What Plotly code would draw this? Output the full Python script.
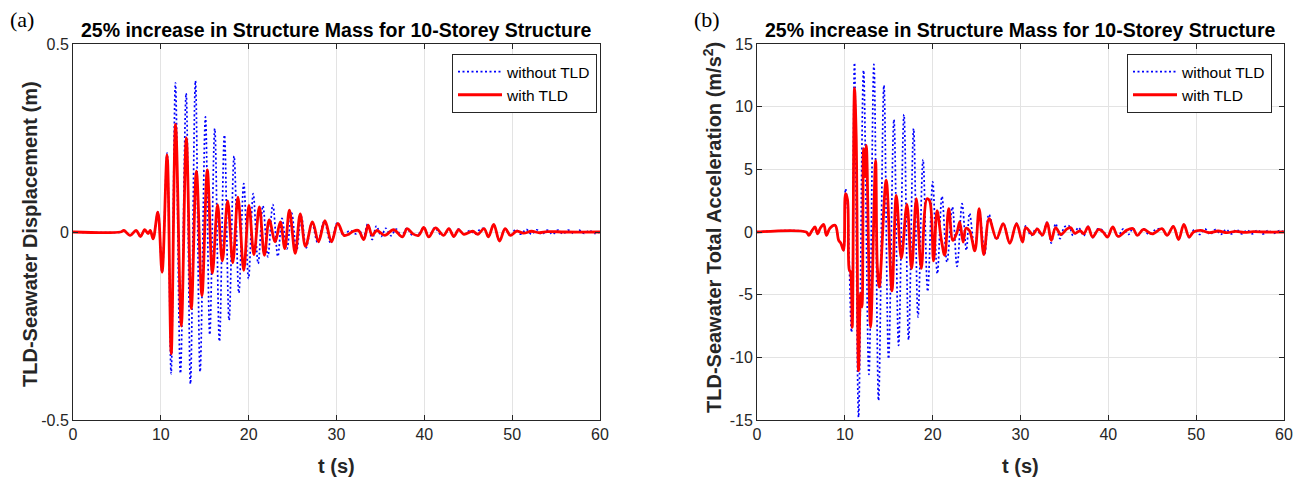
import plotly.graph_objects as go

# ---------------- data ----------------
# Panel (a): TLD-Seawater displacement (m) -- extrema (time s, value m)
disp_without_t = [0, 5.4, 5.8, 6.5, 7.18, 7.68, 8.17, 8.55, 8.8, 9.12, 9.66, 10.14,
                  10.71, 11.17, 11.66, 12.23, 12.88, 13.37, 13.94, 14.47, 15.08, 15.57,
                  16.14, 16.67, 17.24, 17.77, 18.34, 18.88, 19.44, 19.98, 20.52, 21.08,
                  21.62, 22.18, 22.75, 23.32, 23.8, 24.35, 24.9, 25.45, 26.0, 26.55,
                  27.2, 27.85, 28.6, 29.35, 30.1, 30.8, 31.5, 32.2, 32.6, 33.0, 33.57,
                  34.06, 34.55, 35.1, 35.6, 36.2, 36.8, 37.4, 38.0, 38.6, 39.3, 39.95,
                  40.5, 41.2, 41.8, 42.3, 42.8, 43.35, 43.9, 44.5, 45.2, 45.8, 46.3,
                  46.8, 47.3, 47.9, 48.56, 49.2, 49.8, 50.4, 51.0, 51.6, 52.2, 52.8,
                  53.4, 54.0, 54.6, 55.2, 55.8, 56.4, 57.0, 57.6, 58.2, 58.8, 59.4, 60]
disp_without_v = [0, 0, 0.004, -0.009, 0.004, -0.012, 0.006, -0.004, 0.004, -0.018, 0.053, -0.107,
                  0.21, -0.377, 0.397, -0.376, 0.369, -0.404, 0.402, -0.372, 0.306, -0.273,
                  0.275, -0.291, 0.258, -0.235, 0.202, -0.162, 0.129, -0.124, 0.102, -0.084,
                  0.07, -0.066, 0.073, -0.065, 0.036, -0.045, 0.05, -0.05, 0.04, -0.042,
                  0.025, -0.028, 0.028, -0.03, 0.025, -0.01, 0.004, -0.005, 0.006, -0.02, 0.022,
                  -0.02, 0.016, -0.012, 0.01, -0.01, 0.008, -0.012, 0.01, -0.008, -0.006, 0.012,
                  -0.012, 0.011, -0.006, -0.008, 0.009, -0.012, 0.008, -0.006, 0.004, -0.006, 0.006,
                  0.009, -0.013, 0.02, -0.024, 0.01, -0.01, 0.007, -0.006, 0.007, -0.006, 0.006,
                  -0.006, 0.005, -0.006, 0.005, -0.005, 0.005, -0.004, 0.005, -0.004, 0.004, -0.004, 0]

disp_with_t = [0, 5.4, 5.8, 6.5, 7.18, 7.68, 8.17, 8.55, 8.8, 9.12, 9.66, 10.14,
               10.71, 11.18, 11.68, 12.33, 12.9, 13.47, 14.05, 14.68, 15.29, 15.87,
               16.46, 17.0, 17.61, 18.19, 18.78, 19.44, 20.03, 20.6, 21.22, 21.79,
               22.34, 23.02, 23.6, 24.12, 24.64, 25.3, 25.87, 26.47, 27.27, 27.95,
               28.68, 29.43, 30.15, 30.85, 31.4, 31.9, 32.5, 33.1, 33.6, 34.06, 34.6,
               35.5, 36.5, 37.5, 38.04, 38.7, 39.35, 39.94, 40.5, 41.27, 42.2, 42.79,
               43.36, 43.9, 44.5, 45.5, 46.1, 46.8, 47.3, 47.9, 48.56, 49.2, 49.8,
               50.5, 51.3, 52.2, 53.1, 54.0, 56.0, 60]
disp_with_v = [0, 0, 0.004, -0.009, 0.004, -0.012, 0.006, -0.004, 0.004, -0.018, 0.053, -0.107,
               0.205, -0.324, 0.286, -0.25, 0.25, -0.204, 0.162, -0.169, 0.165, -0.109,
               0.072, -0.077, 0.083, -0.082, 0.093, -0.102, 0.071, -0.06, 0.067, -0.062,
               0.032, -0.026, 0.027, -0.044, 0.058, -0.057, 0.048, -0.038, 0.027, -0.026,
               0.03, -0.026, 0.023, -0.009, -0.006, 0.002, 0.004, -0.02, 0.018, -0.009, 0.004,
               -0.009, 0.006, -0.013, 0.009, -0.005, -0.009, 0.012, -0.013, 0.011, -0.009, 0.009,
               -0.012, 0.006, -0.006, 0.002, -0.006, 0.009, -0.013, 0.02, -0.024, 0.009, -0.009,
               0.002, -0.003, 0.002, -0.002, 0.001, 0, 0]

# Panel (b): TLD-Seawater total acceleration (m/s^2) -- extrema (time s, value)
acc_without_t = [0, 5.6, 5.9, 6.25, 6.6, 6.9, 7.2, 7.6, 7.9, 8.3, 8.9, 9.3, 9.55, 9.85,
                 10.08, 10.3, 10.76, 11.1, 11.56, 12.13, 12.74, 13.31, 13.84, 14.45, 14.98,
                 15.59, 16.12, 16.73, 17.26, 17.83, 18.33, 18.9, 19.43, 20.0, 20.53, 21.06,
                 21.63, 22.24, 22.78, 23.35, 23.84, 24.2, 24.8, 25.3, 25.93, 26.4, 27.27,
                 28.03, 28.78, 29.55, 30.23, 30.6, 31.2, 31.8, 32.4, 33.04, 33.5, 34.0,
                 34.5, 35.0, 35.5, 36.0, 36.6, 37.2, 37.7, 38.2, 38.8, 39.4, 39.9, 40.5,
                 41.1, 41.7, 42.3, 42.8, 43.3, 44.0, 44.6, 45.3, 46.1, 46.7, 47.4, 48.0,
                 48.6, 49.2, 49.8, 50.4, 51.0, 51.6, 52.2, 52.8, 53.4, 54.0, 54.6, 55.2,
                 55.8, 56.4, 57.0, 57.6, 58.2, 58.8, 59.4, 60]
acc_without_v = [0, 0, -0.27, 0.1, 0.4, -0.15, 0.3, 0.6, -0.27, 0.3, 0.53, -0.67, -0.9, -1.46,
                 3.46, 2.0, -8.0, 13.5, -14.78, 12.9, -11.37, 13.37, -13.45, 11.7, -10.12,
                 8.97, -9.05, 9.37, -8.6, 8.25, -6.79, 5.78, -4.74, 4.0, -3.33, 2.85,
                 -2.4, 2.0, -2.74, 2.26, -1.46, 1.5, -1.5, 1.7, -1.73, 1.4, -0.6,
                 0.7, -0.9, 0.7, -0.8, 0.5, -0.3, 0.3, -0.3, 0.8, -0.88, 0.67,
                 -0.53, 0.4, 0.5, -0.3, 0.35, -0.3, 0.45, -0.45, 0.25, 0.1, -0.4, 0.4,
                 -0.35, 0.25, -0.2, 0.3, -0.3, 0.25, -0.2, 0.15, 0.27, -0.27, 0.45, -0.6,
                 0.6, -0.45, 0.2, -0.2, 0.25, -0.2, 0.2, -0.2, 0.2, -0.15, 0.2, -0.15,
                 0.15, -0.15, 0.15, -0.15, 0.12, -0.12, 0.1, 0]

acc_with_t = [0, 5.6, 5.9, 6.25, 6.6, 6.9, 7.2, 7.6, 7.9, 8.3, 8.9, 9.3, 9.55, 9.85,
              10.08, 10.3, 10.5, 10.65, 10.84, 11.1, 11.29, 11.56, 11.79, 11.95, 12.13,
              12.3, 12.45, 12.93, 13.5, 13.7, 13.92, 14.71, 15.36, 15.86, 16.43, 17.07,
              17.6, 18.14, 18.7, 19.35, 19.65, 20.1, 20.5, 21.0, 21.37, 21.83, 22.3,
              22.78, 23.08, 23.47, 23.8, 24.2, 24.8, 25.29, 25.82, 26.43, 27.27, 28.03,
              28.78, 29.55, 30.23, 30.6, 31.4, 31.9, 32.5, 33.04, 33.5, 34.0, 34.6,
              35.3, 35.7, 36.2, 36.8, 37.2, 37.7, 38.2, 38.9, 39.4, 39.9, 40.5, 41.1,
              42.1, 42.8, 43.3, 44.0, 45.0, 46.1, 46.7, 47.4, 48.0, 48.6, 49.2, 49.7,
              50.5, 51.5, 52.5, 53.5, 54.5, 55.5, 56.5, 58, 60]
acc_with_v = [0, 0, -0.27, 0.1, 0.4, -0.15, 0.3, 0.6, -0.27, 0.3, 0.53, -0.67, -0.9, -1.46,
              3.06, 2.6, -3.0, -3.2, -7.6, 11.45, 7.7, -11.05, -4.9, -6.0, 6.66,
              4.4, 6.9, -7.6, 5.7, -2.8, -4.4, 4.13, -4.7, 2.93, -2.1, 2.2,
              -2.93, 2.66, -2.9, 2.66, 2.5, -2.3, 1.7, -0.67, -1.86, 1.86, -0.67,
              0.0, 0.8, -0.8, 0.3, 0.1, -1.5, 1.86, -1.8, 1.06, -0.53, 0.67,
              -0.9, 0.67, -0.8, 0.35, -0.2, 0.25, -0.25, 0.75, -0.67, 0.35, -0.2,
              0.25, 0.35, -0.1, 0.1, -0.15, 0.4, -0.4, 0.2, 0.0, -0.4, 0.4, -0.35,
              0.15, 0.27, -0.27, 0.2, -0.15, 0.27, -0.27, 0.45, -0.6, 0.6, -0.4, 0.0,
              0.13, -0.05, 0.08, -0.05, 0.05, -0.03, 0.03, 0, 0]

x_ticks = [0, 10, 20, 30, 40, 50, 60]
disp_ticks = [-0.5, 0, 0.5]
acc_ticks = [-15, -10, -5, 0, 5, 10, 15]

title_text = "25% increase in Structure Mass for 10-Storey Structure"
series_names = ["without TLD", "with TLD"]

# ---------------- figure ----------------
# The page body has an 8px default margin, so the figure is drawn at (8, 8);
# positions below are given in window pixels and shifted by OFF.
OFF = 8
W, H = 1308 - OFF, 480 - OFF
BLUE = "#0000ff"
RED = "#ff0000"
AX = "#262626"
GRID = "#e3e3e3"
FONT = "Liberation Sans, Arial, sans-serif"

fig = go.Figure()

blue_line = dict(color=BLUE, width=1.7, dash="2px,2.5px", shape="spline", smoothing=1.0)
red_line = dict(color=RED, width=2.8, shape="spline", smoothing=1.0)

fig.add_trace(go.Scatter(x=disp_without_t, y=disp_without_v, mode="lines", name=series_names[0],
                         line=blue_line, xaxis="x", yaxis="y", legend="legend"))
fig.add_trace(go.Scatter(x=disp_with_t, y=disp_with_v, mode="lines", name=series_names[1],
                         line=red_line, xaxis="x", yaxis="y", legend="legend"))
fig.add_trace(go.Scatter(x=acc_without_t, y=acc_without_v, mode="lines", name=series_names[0],
                         line=blue_line, xaxis="x2", yaxis="y2", legend="legend2"))
fig.add_trace(go.Scatter(x=acc_with_t, y=acc_with_v, mode="lines", name=series_names[1],
                         line=red_line, xaxis="x2", yaxis="y2", legend="legend2"))

L1, R1 = 73, 600
L2, R2 = 757, 1284
T, B = 44, 420

def px_x(p):
    return (p - OFF) / W

def px_y(p):
    return 1 - (p - OFF) / H

axis_common = dict(showline=True, linecolor=AX, linewidth=1, mirror="ticks",
                   ticks="inside", ticklen=5, tickcolor=AX, showgrid=True,
                   gridcolor=GRID, gridwidth=1, zeroline=False,
                   tickfont=dict(family=FONT, size=16, color=AX))

legend_common = dict(xanchor="right", y=px_y(54), yanchor="top",
                     bgcolor="white", bordercolor=AX, borderwidth=1,
                     font=dict(family=FONT, size=15.5, color="black"),
                     tracegroupgap=0, itemwidth=44)

fig.update_layout(
    width=W, height=H,
    margin=dict(l=0, r=0, t=0, b=0, autoexpand=False),
    paper_bgcolor="white", plot_bgcolor="white",
    font=dict(family=FONT, color=AX),
    xaxis=dict(domain=[px_x(L1), px_x(R1)], range=[0, 60], tickvals=x_ticks,
               anchor="y", **axis_common),
    yaxis=dict(domain=[px_y(B), px_y(T)], range=[-0.5, 0.5], tickvals=disp_ticks,
               ticktext=["-0.5", "0", "0.5"], anchor="x", **axis_common),
    xaxis2=dict(domain=[px_x(L2), px_x(R2)], range=[0, 60], tickvals=x_ticks,
                anchor="y2", **axis_common),
    yaxis2=dict(domain=[px_y(B), px_y(T)], range=[-15, 15], tickvals=acc_ticks,
                ticktext=[str(v) for v in acc_ticks], anchor="x2", **axis_common),
    legend=dict(x=px_x(597), **legend_common),
    legend2=dict(x=px_x(1272), **legend_common),
    showlegend=True,
)

annotations = []
for (l, r) in [(L1, R1), (L2, R2)]:
    annotations.append(dict(text="<b>" + title_text + "</b>", x=px_x((l + r) / 2), y=px_y(30),
                            xref="paper", yref="paper", showarrow=False,
                            xanchor="center", yanchor="middle",
                            font=dict(family=FONT, size=19.5, color="black")))
    annotations.append(dict(text="<b>t (s)</b>", x=px_x((l + r) / 2), y=px_y(466),
                            xref="paper", yref="paper", showarrow=False,
                            xanchor="center", yanchor="middle",
                            font=dict(family=FONT, size=20, color=AX)))
annotations.append(dict(text="<b>TLD-Seawater Displacement (m)</b>", x=px_x(30), y=px_y(234),
                        xref="paper", yref="paper", showarrow=False, textangle=-90,
                        xanchor="center", yanchor="middle",
                        font=dict(family=FONT, size=20, color=AX)))
annotations.append(dict(text="<b>TLD-Seawater Total Acceleration (m/s<sup>2</sup>)</b>",
                        x=px_x(712), y=px_y(228),
                        xref="paper", yref="paper", showarrow=False, textangle=-90,
                        xanchor="center", yanchor="middle",
                        font=dict(family=FONT, size=20, color=AX)))
annotations.append(dict(text="(a)", x=px_x(8), y=px_y(19), xref="paper", yref="paper",
                        showarrow=False, xanchor="left", yanchor="middle",
                        font=dict(family="Liberation Serif, DejaVu Serif, serif", size=22, color="black")))
annotations.append(dict(text="(b)", x=px_x(692), y=px_y(19), xref="paper", yref="paper",
                        showarrow=False, xanchor="left", yanchor="middle",
                        font=dict(family="Liberation Serif, DejaVu Serif, serif", size=22, color="black")))
fig.update_layout(annotations=annotations)

fig.write_html("out.html")
